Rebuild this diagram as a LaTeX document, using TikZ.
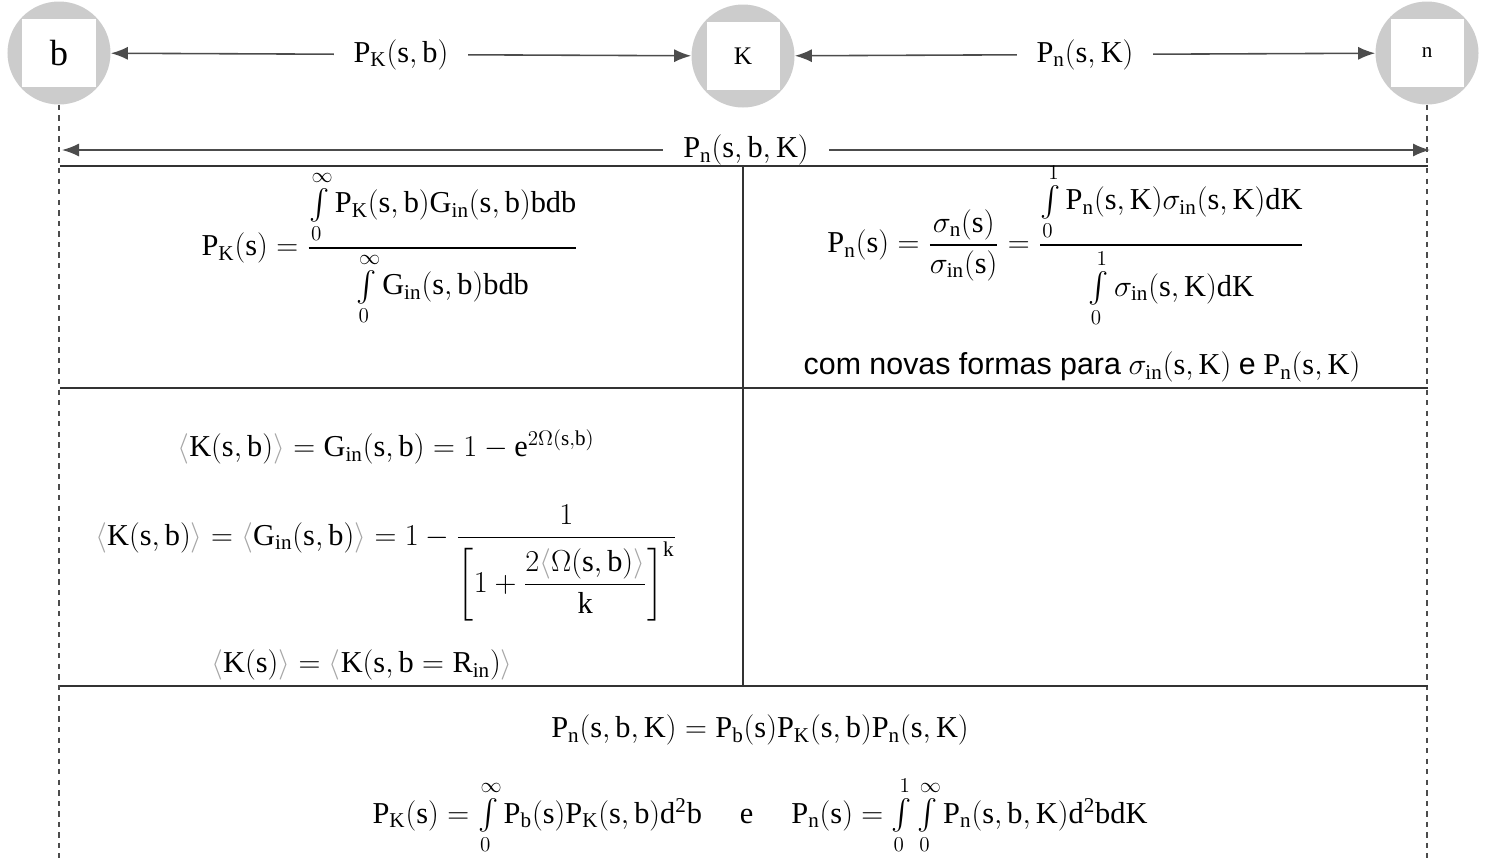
\documentclass[tikz,border=0pt]{standalone}
\usepackage{amsmath}
\usepackage{fontspec}
\setmainfont{Liberation Serif}
\newfontfamily\arialfont{Liberation Sans}
\usetikzlibrary{arrows.meta, positioning}

\newcommand{\avg}[1]{{\color{gray!70}\langle}#1{\color{gray!70}\rangle}}
\newcommand{\sint}{\textstyle\int\limits}

\begin{document}
\begin{tikzpicture}[x=0.2mm, y=-0.2mm,
    >={Latex[length=3.4mm, width=2.6mm]},
    every node/.style={font=\LARGE},
    site/.style={circle, fill=gray!40, minimum size=20.6mm, inner sep=0pt},
    sitebox/.style={fill=white, minimum width=14.6mm, minimum height=13.6mm, inner sep=0pt},
    flow/.style={<->, draw=black!70, line width=0.9pt},
    lbl/.style={fill=white, inner xsep=4mm, inner ysep=1mm, font=\LARGE},
    gridline/.style={draw=black!80, line width=1.1pt},
    guide/.style={draw=black!70, dashed, line width=0.6pt}
  ]
  \useasboundingbox (0,0) rectangle (1486,858);

  % b, K and n
  \node[site] (b) at (59,53) {};
  \node[sitebox, font=\huge] (bbox) at (b) {b};
  \node[site] (K) at (743,56) {};
  \node[sitebox, font=\Large] (Kbox) at (K) {K};
  \node[site] (n) at (1427,53) {};
  \node[sitebox, font=\large] (nbox) at (n) {n};

  \draw[flow] (b) -- node[lbl] {$\mathrm{P_K(s,b)}$} (K);
  \draw[flow] (K) -- node[lbl] {$\mathrm{P_n(s,K)}$} (n);

  \coordinate (foot) at (0,858);
  \draw[guide] (b.south) -- (b.south |- foot);
  \draw[guide] (n.south) -- (n.south |- foot);

  \coordinate (lft) at (62,150);
  \coordinate (rgt) at (1430,150);
  \draw[flow] (lft) -- node[lbl] {$\mathrm{P_n(s,b,K)}$} (rgt);

  % table
  \draw[gridline] (60,166) -- (1428,166);
  \draw[gridline] (743,166) -- (743,686);
  \draw[gridline] (60,388) -- (1428,388);
  \draw[gridline] (60,686) -- (1428,686);

  \node (pk) at (390,248) {$\mathrm{P_K(s)} = \dfrac{\sint_0^\infty \mathrm{P_K(s,b)G_{in}(s,b)bdb}}{\sint_0^\infty \mathrm{G_{in}(s,b)bdb}}$};
  \node (pn) at (1066,245) {$\mathrm{P_n(s)} = \dfrac{\sigma_{\mathrm n}(\mathrm s)}{\sigma_{\mathrm{in}}(\mathrm s)} = \dfrac{\sint_0^1 \mathrm{P_n(s,K)}\sigma_{\mathrm{in}}\mathrm{(s,K)dK}}{\sint_0^1 \sigma_{\mathrm{in}}\mathrm{(s,K)dK}}$};
  \node (novas) at (1082,367) {{\arialfont com novas formas para} $\sigma_{\mathrm{in}}\mathrm{(s,K)}$\ {\arialfont e} $\mathrm{P_n(s,K)}$};

  \node (kb) at (386,447) {$\avg{\mathrm{K(s,b)}} = \mathrm{G_{in}(s,b)} = 1 - \mathrm{e}^{2\Omega(\mathrm{s,b})}$};
  \node (kbk) at (386,563) {$\avg{\mathrm{K(s,b)}} = \avg{\mathrm{G_{in}(s,b)}} = 1 - \dfrac{1}{\left[1 + \dfrac{2\avg{\Omega(\mathrm{s,b})}}{\mathrm k}\right]^{\mathrm k}}$};
  \node (ks) at (362,665) {$\avg{\mathrm{K(s)}} = \avg{\mathrm{K(s,b=R_{in})}}$};

  \node (pnbk) at (760,730) {$\mathrm{P_n(s,b,K) = P_b(s)P_K(s,b)P_n(s,K)}$};
  \node (tot) at (760,815) {$\mathrm{P_K(s)} = \sint_0^\infty \mathrm{P_b(s)P_K(s,b)d^2b}$ \quad e \quad $\mathrm{P_n(s)} = \sint_0^1\sint_0^\infty \mathrm{P_n(s,b,K)d^2bdK}$};
\end{tikzpicture}
\end{document}
